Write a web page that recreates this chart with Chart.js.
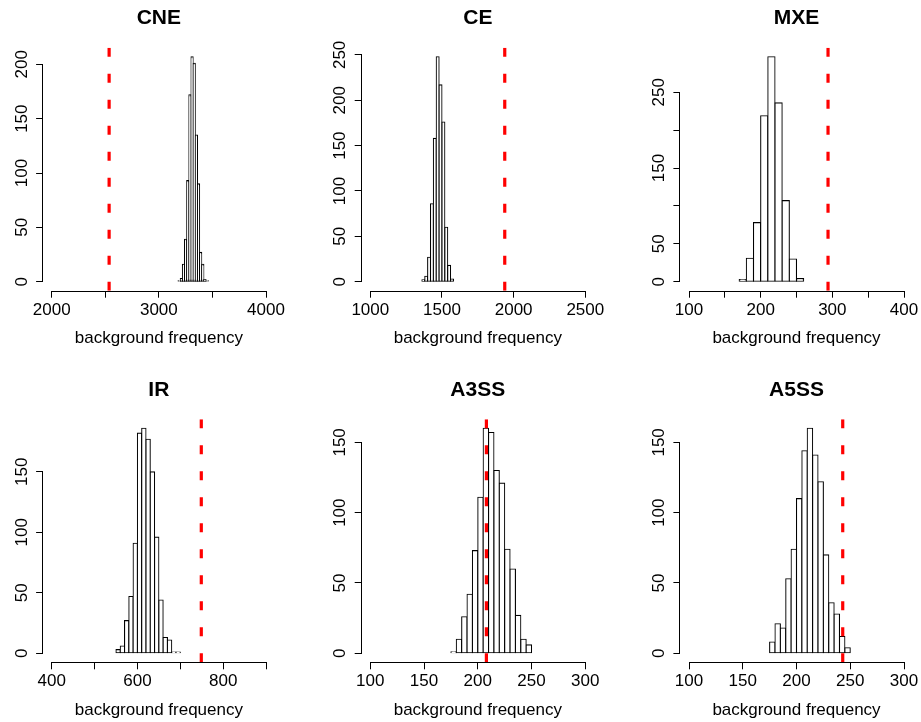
<!DOCTYPE html>
<html>
<head>
<meta charset="utf-8">
<script src="https://cdn.jsdelivr.net/npm/chart.js@4.4.0/dist/chart.umd.min.js"></script>
<style>
html,body{margin:0;padding:0;background:#fff;width:921px;height:722px;overflow:hidden;position:relative;}
canvas{position:absolute;}
</style>
</head>
<body>
<script>
// ---------------- DATA ----------------
const panelTitles = ["CNE", "CE", "MXE", "IR", "A3SS", "A5SS"];
const xAxisTitle = "background frequency";

// histogram bins: first break, bin width, counts
const cneStart = 3180, cneWidth = 20;
const cneCounts = [1, 3, 16, 39, 93, 172, 207, 201, 135, 90, 27, 16, 2, 1];
const ceStart = 1360, ceWidth = 20;
const ceCounts = [2, 6, 27, 86, 158, 248, 217, 176, 60, 18, 3];
const mxeStart = 170, mxeWidth = 10;
const mxeCounts = [3, 31, 78, 219, 297, 236, 107, 30, 4];
const irStart = 550, irWidth = 10;
const irCounts = [3, 6, 27, 47, 91, 182, 186, 177, 150, 96, 44, 13, 11, 1, 1];
const a3ssStart = 175, a3ssWidth = 5;
const a3ssCounts = [1, 10, 26, 42, 73, 111, 160, 157, 130, 121, 74, 60, 27, 10, 6];
const a5ssStart = 175, a5ssWidth = 5;
const a5ssCounts = [8, 21, 18, 53, 74, 110, 144, 160, 141, 122, 70, 36, 28, 12, 4];

// observed values (red dashed lines)
const observedValues = [2536, 1938, 294, 749, 208, 243];

// x axis ticks and the ones that carry labels
const cneXTicks = [2000, 2500, 3000, 3500, 4000];
const cneXLabels = [2000, 3000, 4000];
const ceXTicks = [1000, 1500, 2000, 2500];
const ceXLabels = [1000, 1500, 2000, 2500];
const mxeXTicks = [100, 150, 200, 250, 300, 350, 400];
const mxeXLabels = [100, 200, 300, 400];
const irXTicks = [400, 500, 600, 700, 800, 900];
const irXLabels = [400, 600, 800];
const a3ssXTicks = [100, 150, 200, 250, 300];
const a3ssXLabels = [100, 150, 200, 250, 300];
const a5ssXTicks = [100, 150, 200, 250, 300];
const a5ssXLabels = [100, 150, 200, 250, 300];

// y axis ticks and labels
const cneYTicks = [0, 50, 100, 150, 200];
const cneYLabels = [0, 50, 100, 150, 200];
const ceYTicks = [0, 50, 100, 150, 200, 250];
const ceYLabels = [0, 50, 100, 150, 200, 250];
const mxeYTicks = [0, 50, 100, 150, 200, 250];
const mxeYLabels = [0, 50, 150, 250];
const irYTicks = [0, 50, 100, 150];
const irYLabels = [0, 50, 100, 150];
const a3ssYTicks = [0, 50, 100, 150];
const a3ssYLabels = [0, 50, 100, 150];
const a5ssYTicks = [0, 50, 100, 150];
const a5ssYLabels = [0, 50, 100, 150];

// ---------------- LAYOUT ----------------
const FONT = '"Liberation Sans", Arial, Helvetica, sans-serif';
Chart.defaults.font.family = FONT;
Chart.defaults.color = '#000';

const colLeft = [0, 307, 614];
const rowTop = [0, 361];
const yAxisW = [43.1, 54.7, 66.4];
const padRight = [32.4, 20.1, 8.4];
const titlePad = [{top: 6, bottom: 16.5}, {top: 17, bottom: 16.1}];
const xAxisH = [70.3, 59.7];
const xTitlePadB = [12.5, 1.8];
const EDGE = 1.1;

const panels = [
  {start: cneStart, width: cneWidth, counts: cneCounts, xTicks: cneXTicks, xLabels: cneXLabels, yTicks: cneYTicks, yLabels: cneYLabels},
  {start: ceStart, width: ceWidth, counts: ceCounts, xTicks: ceXTicks, xLabels: ceXLabels, yTicks: ceYTicks, yLabels: ceYLabels},
  {start: mxeStart, width: mxeWidth, counts: mxeCounts, xTicks: mxeXTicks, xLabels: mxeXLabels, yTicks: mxeYTicks, yLabels: mxeYLabels},
  {start: irStart, width: irWidth, counts: irCounts, xTicks: irXTicks, xLabels: irXLabels, yTicks: irYTicks, yLabels: irYLabels},
  {start: a3ssStart, width: a3ssWidth, counts: a3ssCounts, xTicks: a3ssXTicks, xLabels: a3ssXLabels, yTicks: a3ssYTicks, yLabels: a3ssYLabels},
  {start: a5ssStart, width: a5ssWidth, counts: a5ssCounts, xTicks: a5ssXTicks, xLabels: a5ssXLabels, yTicks: a5ssYTicks, yLabels: a5ssYLabels}
];

// R-style axis lines spanning first..last tick
const rAxisLines = {
  id: 'rAxisLines',
  afterDraw(chart) {
    const {ctx, chartArea, scales: {x, y}} = chart;
    const xt = x.ticks, yt = y.ticks;
    ctx.save();
    ctx.strokeStyle = '#000';
    ctx.lineWidth = 1;
    ctx.beginPath();
    const by = Math.round(chartArea.bottom) + 0.5;
    ctx.moveTo(x.getPixelForValue(xt[0].value), by);
    ctx.lineTo(x.getPixelForValue(xt[xt.length - 1].value), by);
    const lx = Math.round(chartArea.left) - 0.5;
    ctx.moveTo(lx, y.getPixelForValue(yt[0].value));
    ctx.lineTo(lx, y.getPixelForValue(yt[yt.length - 1].value));
    ctx.stroke();
    ctx.restore();
  }
};

panels.forEach((p, i) => {
  const col = i % 3, row = Math.floor(i / 3);
  const canvas = document.createElement('canvas');
  canvas.width = 307; canvas.height = 361;
  canvas.style.left = colLeft[col] + 'px';
  canvas.style.top = rowTop[row] + 'px';
  document.body.appendChild(canvas);

  const M = Math.max(...p.counts);
  const x0 = p.xTicks[0], x1 = p.xTicks[p.xTicks.length - 1];
  const xr = x1 - x0;

  new Chart(canvas, {
    type: 'bar',
    data: {
      datasets: [
        {
          type: 'bar',
          data: p.counts.map((c, k) => ({x: p.start + p.width * (k + 0.5), y: c})),
          backgroundColor: '#ffffff',
          borderColor: '#000000',
          borderWidth: EDGE,
          borderSkipped: false,
          barPercentage: 1,
          categoryPercentage: 1,
          inflateAmount: EDGE / 2,
          order: 2
        },
        {
          type: 'line',
          data: [{x: observedValues[i], y: -0.04 * M}, {x: observedValues[i], y: 1.04 * M}],
          borderColor: '#ff0000',
          borderWidth: 3.2,
          borderDash: [9, 17],
          pointRadius: 0,
          fill: false,
          tension: 0,
          order: 1
        }
      ]
    },
    options: {
      responsive: false,
      animation: false,
      devicePixelRatio: 1,
      layout: {autoPadding: false, padding: {left: 0, top: 0, right: padRight[col], bottom: 0}},
      plugins: {
        legend: {display: false},
        tooltip: {enabled: false},
        title: {
          display: true,
          text: panelTitles[i],
          fullSize: false,
          color: '#000',
          font: {family: FONT, size: 21, weight: 'bold', lineHeight: 1.2},
          padding: titlePad[row]
        }
      },
      scales: {
        x: {
          type: 'linear',
          offset: false,
          min: x0 - 0.04 * xr,
          max: x1 + 0.04 * xr,
          grid: {offset: false, drawOnChartArea: false, drawTicks: true, tickLength: 7, color: '#000', lineWidth: 1},
          border: {display: false},
          afterBuildTicks: (s) => { s.ticks = p.xTicks.map(v => ({value: v})); },
          afterFit: (s) => { s.height = xAxisH[row]; s.paddingLeft = 0; s.paddingRight = 0; },
          ticks: {
            autoSkip: false, maxRotation: 0, minRotation: 0, padding: 2,
            color: '#000', font: {family: FONT, size: 17, lineHeight: 1.2},
            callback: (v) => p.xLabels.includes(v) ? String(v) : ''
          },
          title: {
            display: true, text: xAxisTitle, color: '#000',
            font: {family: FONT, size: 17, lineHeight: 1.2},
            padding: {top: 0, bottom: xTitlePadB[row]}
          }
        },
        y: {
          type: 'linear',
          min: -0.04 * M,
          max: 1.04 * M,
          grid: {drawOnChartArea: false, drawTicks: true, tickLength: 7, color: '#000', lineWidth: 1},
          border: {display: false},
          afterBuildTicks: (s) => { s.ticks = p.yTicks.map(v => ({value: v})); },
          afterFit: (s) => { s.width = yAxisW[col]; s.paddingTop = 0; s.paddingBottom = 0; },
          ticks: {
            autoSkip: false, minRotation: 90, maxRotation: 90, crossAlign: 'center', padding: 0,
            color: '#000', font: {family: FONT, size: 17, lineHeight: 1.2},
            callback: (v) => p.yLabels.includes(v) ? String(v) : ''
          }
        }
      }
    },
    plugins: [rAxisLines]
  });
});
</script>
</body>
</html>
